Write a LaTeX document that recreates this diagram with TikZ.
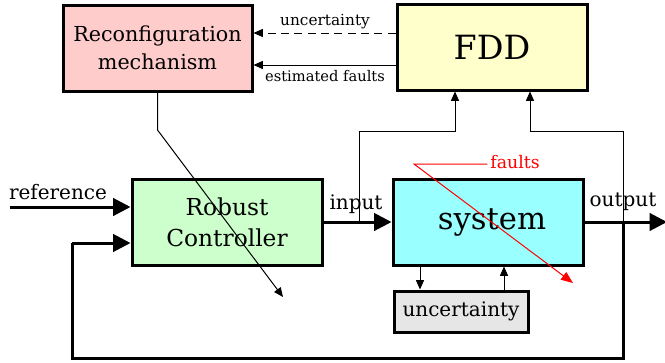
\documentclass[tikz,border=0pt]{standalone}
\usepackage{fontspec}
\setmainfont{DejaVu Serif}
\usetikzlibrary{arrows.meta}
\definecolor{cpink}{HTML}{FFCCCC}
\definecolor{cyell}{HTML}{FFFFCC}
\definecolor{cgreen}{HTML}{CCFFCC}
\definecolor{ccyan}{HTML}{99FFFF}
\definecolor{cgray}{HTML}{E6E6E6}
\definecolor{cred}{HTML}{FF0000}
\tikzset{
  blk/.style={draw=black, line width=2.25pt, align=center, inner sep=0pt},
  thickarr/.style={line width=2.25pt, -{Triangle[length=13pt,width=13pt]}},
  thickline/.style={line width=2.25pt},
  thinarr/.style={line width=0.75pt, -{Triangle[length=7pt,width=6pt]}},
  thinline/.style={line width=0.75pt},
  lbl/.style={inner sep=0pt},
}
\begin{document}
\begin{tikzpicture}[x=0.75pt,y=-0.75pt]
\useasboundingbox (0,0) rectangle (665,362);
% blocks
\node[blk, fill=cpink, minimum width=189*0.75pt, minimum height=86*0.75pt, font=\fontsize{15.5}{21}\selectfont] (rec) at (157.5,48) {Reconfiguration\\mechanism};
\node[blk, fill=cyell, minimum width=190*0.75pt, minimum height=86*0.75pt, font=\fontsize{25}{30}\selectfont] (fdd) at (492,47) {FDD};
\node[blk, fill=cgreen, minimum width=190*0.75pt, minimum height=86*0.75pt, font=\fontsize{17.5}{23}\selectfont] (ctrl) at (227,222) {Robust\\Controller};
\node[blk, fill=ccyan, minimum width=190*0.75pt, minimum height=86*0.75pt, font=\fontsize{23}{28}\selectfont] (sys) at (488,222) {\hspace*{6pt}system};
\node[blk, fill=cgray, minimum width=134*0.75pt, minimum height=41*0.75pt, font=\fontsize{15}{18}\selectfont] (unc) at (461,311.5) {uncertainty};
% coordinates
\coordinate (y33) at (0,33);
\coordinate (y65) at (0,65);
\coordinate (ref) at (10,207);
\coordinate (out) at (667,222);
\coordinate (tap) at (623,222);
\coordinate (fbl) at (72,358);
\coordinate (fbu) at (72,243);
\coordinate (itap) at (359,222);
\coordinate (ib) at (455,131);
\coordinate (ob) at (530,131);
\coordinate (dn) at (420,0);
\coordinate (up) at (504,0);
\coordinate (rb) at (157.5,130);
\coordinate (rend) at (283,297);
\coordinate (fk) at (414,164);
\coordinate (fend) at (573,283);
% labels
\node[lbl, font=\fontsize{11.5}{14}\selectfont] (lu) at (325,22) {uncertainty};
\node[lbl, font=\fontsize{11}{14}\selectfont] (lef) at (325,76) {estimated faults};
\node[lbl, font=\fontsize{15}{18}\selectfont] (lref) at (58,192) {reference};
\node[lbl, font=\fontsize{15}{18}\selectfont] (lin) at (356,204) {input};
\node[lbl, font=\fontsize{15}{18}\selectfont] (lout) at (623,202) {output};
\node[lbl, font=\fontsize{13}{16}\selectfont, text=cred] (lf) at (515,162) {faults};
% connectors
\draw[thinarr, dash pattern=on 6pt off 4pt] (fdd.west |- y33) -- (rec.east |- y33);
\draw[thinarr] (fdd.west |- y65) -- (rec.east |- y65);
\draw[thickarr] (ref) -- (ctrl.west |- ref);
\draw[thickarr] (ctrl.east) -- (sys.west);
\draw[thickarr] (sys.east) -- (out);
\draw[thickline] (tap) |- (fbl) -- (fbu);
\draw[thickarr] (fbu) -- (ctrl.west |- fbu);
\draw[thinarr] (itap) |- (ib) -- (ib |- fdd.south);
\draw[thinarr] (tap) |- (ob) -- (ob |- fdd.south);
\draw[thinarr] (sys.south -| dn) -- (unc.north -| dn);
\draw[thinarr] (unc.north -| up) -- (sys.south -| up);
\draw[thinarr] (rec.south) -- (rb) -- (rend);
\draw[line width=0.75pt, draw=cred, -{Triangle[length=9pt,width=7pt]}] ([xshift=-2pt]lf.west |- fk) -- (fk) -- (fend);
\end{tikzpicture}
\end{document}
